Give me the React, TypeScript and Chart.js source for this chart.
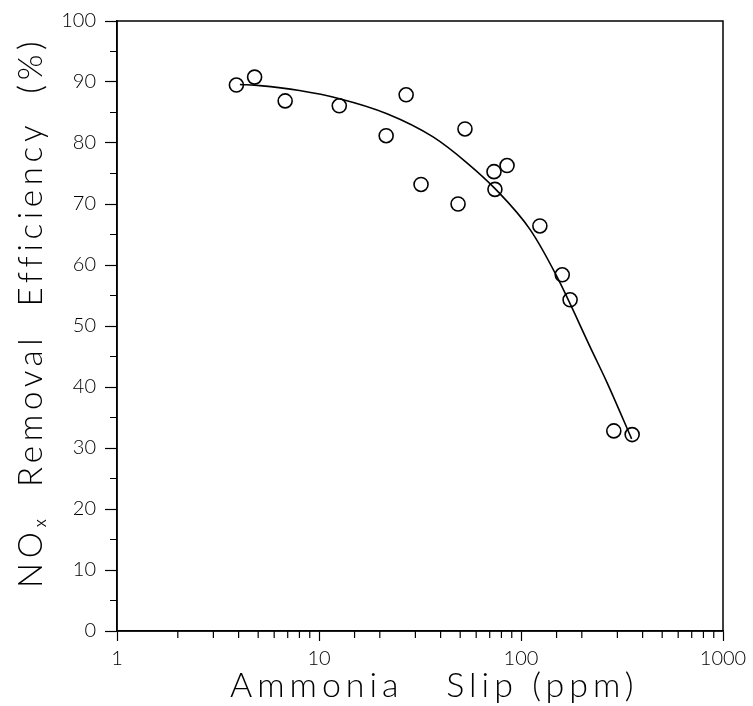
import React, { useEffect, useRef } from "react";
import { Chart, registerables } from "chart.js";

Chart.register(...registerables);

// Measured points
const slipPpm = [3.9, 4.8, 6.8, 12.6, 21.5, 27, 32, 48.8, 52.8, 73.5, 74.3, 85.3, 124, 160, 175, 288, 355];
const efficiency = [89.5, 90.8, 86.9, 86.1, 81.2, 87.9, 73.2, 70.0, 82.3, 75.3, 72.4, 76.3, 66.4, 58.4, 54.3, 32.8, 32.2];

// Fitted curve
const fitSlip = [4.06, 5.1, 8, 12.5, 21.7, 36.7, 53.8, 75, 111, 150, 224, 266, 353];
const fitEff = [89.6, 89.4, 88.6, 87.3, 84.8, 81.0, 76.8, 72.4, 65.8, 58.2, 46.0, 40.8, 31.5];

const yMinorTicks = [5, 15, 25, 35, 45, 55, 65, 75, 85, 95];

const xTitle = "  Ammonia   Slip (ppm)";
const yTitle = "  NOₓ  Removal  Efficiency  (%)";

const FONT = "'Lato', 'DejaVu Sans', sans-serif";

const isPow10 = (v: number) => Math.abs(Math.log10(v) - Math.round(Math.log10(v))) < 1e-9;

function spacedTitle(scale: any, spacing: string) {
  if (scale.__spaced) return;
  scale.__spaced = true;
  const proto = Object.getPrototypeOf(scale);
  scale.drawTitle = function () {
    const ctx = this.ctx;
    const prev = ctx.letterSpacing;
    ctx.letterSpacing = spacing;
    proto.drawTitle.call(this);
    ctx.letterSpacing = prev || "0px";
  };
}

const framePlugin = {
  id: "frame",
  afterDraw(chart: any) {
    const { ctx, chartArea } = chart;
    const xs = chart.scales.x;
    const ys = chart.scales.y;
    ctx.save();
    ctx.strokeStyle = "#000";
    ctx.lineWidth = 1.5;
    ctx.strokeRect(chartArea.left, chartArea.top, chartArea.right - chartArea.left, chartArea.bottom - chartArea.top);
    ctx.lineWidth = 1.2;
    ctx.beginPath();
    for (const t of xs.ticks) {
      if (isPow10(t.value)) continue;
      const px = xs.getPixelForValue(t.value);
      ctx.moveTo(px, chartArea.bottom);
      ctx.lineTo(px, chartArea.bottom + 7);
    }
    for (const v of yMinorTicks) {
      const py = ys.getPixelForValue(v);
      ctx.moveTo(chartArea.left, py);
      ctx.lineTo(chartArea.left - 7, py);
    }
    ctx.stroke();
    ctx.restore();
  },
};

export default function App() {
  const ref = useRef<HTMLCanvasElement | null>(null);

  useEffect(() => {
    if (!ref.current) return;
    const chart = new Chart(ref.current, {
      type: "scatter",
      data: {
        datasets: [
          {
            label: "Measured",
            data: slipPpm.map((x, i) => ({ x, y: efficiency[i] })),
            pointStyle: "circle",
            pointRadius: 7,
            pointBorderWidth: 1.6,
            pointBorderColor: "#000",
            pointBackgroundColor: "rgba(255,255,255,0)",
            showLine: false,
          },
          {
            label: "Fit",
            data: fitSlip.map((x, i) => ({ x, y: fitEff[i] })),
            showLine: true,
            borderColor: "#000",
            borderWidth: 1.6,
            pointRadius: 0,
            cubicInterpolationMode: "monotone",
          },
        ],
      },
      options: {
        animation: false,
        responsive: true,
        maintainAspectRatio: false,
        layout: { padding: { top: 17, right: 30, left: 0, bottom: 0 } },
        plugins: { legend: { display: false }, tooltip: { enabled: false } },
        scales: {
          x: {
            type: "logarithmic",
            min: 1,
            max: 1000,
            afterFit: (s: any) => {
              s.height = 75;
              spacedTitle(s, "5px");
            },
            border: { display: true, color: "#000", width: 1.5 },
            grid: {
              drawOnChartArea: false,
              drawTicks: true,
              tickLength: 10,
              tickWidth: 1.2,
              tickColor: (c: any) => (c.tick && isPow10(c.tick.value) ? "#000" : "rgba(0,0,0,0)"),
            },
            ticks: {
              autoSkip: false,
              maxRotation: 0,
              padding: 6,
              color: "#000",
              font: { family: FONT, size: 20, weight: "300" },
              callback: (v: any) => (isPow10(Number(v)) ? String(Number(v)) : ""),
            },
            title: {
              display: true,
              text: xTitle,
              color: "#000",
              font: { family: FONT, size: 34, weight: "300", lineHeight: 1.2 },
              padding: { top: 0, bottom: 0 },
            },
          },
          y: {
            min: 0,
            max: 100,
            afterFit: (s: any) => {
              s.width = 117;
              spacedTitle(s, "4.7px");
            },
            border: { display: true, color: "#000", width: 1.5 },
            grid: {
              drawOnChartArea: false,
              drawTicks: true,
              tickLength: 12,
              tickWidth: 1.2,
              tickColor: (c: any) => (c.tick && c.tick.value % 10 === 0 ? "#000" : "rgba(0,0,0,0)"),
            },
            ticks: {
              stepSize: 10,
              padding: 9,
              color: "#000",
              font: { family: FONT, size: 20, weight: "300" },
            },
            title: {
              display: true,
              text: yTitle,
              color: "#000",
              font: { family: FONT, size: 33, weight: "300", lineHeight: 1.2 },
              padding: { top: 12, bottom: 0 },
            },
          },
        },
      },
      plugins: [framePlugin],
    });
    return () => chart.destroy();
  }, []);

  return (
    <div style={{ position: "absolute", left: 0, top: 0, width: 753, height: 706, background: "#fff" }}>
      <canvas ref={ref} />
    </div>
  );
}
